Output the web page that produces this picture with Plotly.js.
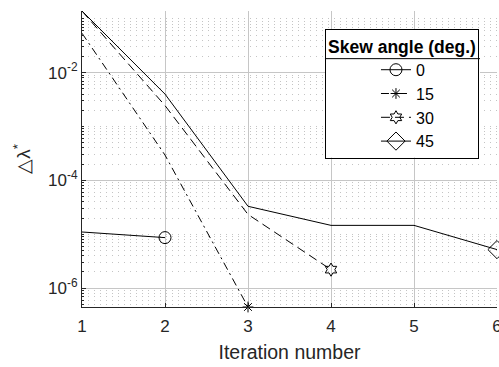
<!DOCTYPE html>
<html>
<head>
<meta charset="utf-8">
<script src="https://cdn.plot.ly/plotly-3.0.1.min.js"></script>
<style>
  html, body { margin: 0; padding: 0; background: #ffffff; }
  #chart { width: 499px; height: 367px; }
</style>
</head>
<body>
<div id="chart"></div>
<script>
// Convergence of the eigenvalue increment per iteration, by skew angle
const seriesNames = ['0', '15', '30', '45'];

const iter0  = [1, 2];
const delta0 = [1.1e-5, 8.65e-6];

const iter15  = [1, 2, 3];
const delta15 = [0.054, 2.95e-4, 4.45e-7];

const iter30  = [1, 2, 3, 4];
const delta30 = [0.139, 2.45e-3, 2.33e-5, 2.2e-6];

const iter45  = [1, 2, 3, 4, 5, 6];
const delta45 = [0.1397, 4.0e-3, 3.3e-5, 1.46e-5, 1.46e-5, 5.18e-6];

const xTickVals = [1, 2, 3, 4, 5, 6];
const yTickVals = [1e-6, 1e-4, 1e-2];
const yTickText = ['10<sup>-6</sup>', '10<sup>-4</sup>', '10<sup>-2</sup>'];

const xs = [iter0, iter15, iter30, iter45];
const ys = [delta0, delta15, delta30, delta45];
const dashes = ['solid', '8px,4px,2px,4px', '9px,5px', 'solid'];
const symbols = ['circle-open', 'asterisk-open', 'hexagram-open', 'diamond-open'];
const markerSizes = [12, 9, 10, 14];

const ink = '#262626';
const traces = [];
for (let i = 0; i < seriesNames.length; i++) {
  // the full curve
  traces.push({
    x: xs[i], y: ys[i], type: 'scatter', mode: 'lines',
    line: { color: '#000', width: 1, dash: dashes[i] },
    legendgroup: seriesNames[i], showlegend: false, hoverinfo: 'skip'
  });
  // the marker sits on the final iteration of each run
  const n = xs[i].length - 1;
  traces.push({
    x: [xs[i][n]], y: [ys[i][n]], type: 'scatter', mode: 'lines+markers',
    name: seriesNames[i], legendgroup: seriesNames[i],
    line: { color: '#000', width: 1, dash: dashes[i] },
    marker: { symbol: symbols[i], size: markerSizes[i], color: '#000',
              line: { color: '#000', width: 1 } },
    cliponaxis: false
  });
}

const allY = [].concat(delta0, delta15, delta30, delta45);
const yMin = Math.log10(Math.min.apply(null, allY));
const yMax = Math.log10(Math.max.apply(null, allY));

// legend box in paper coordinates
const legX0 = 0.5855, legX1 = 0.959, legY0 = 0.505, legY1 = 0.939, legSep = 0.839;

const layout = {
  width: 499, height: 367,
  margin: { l: 82, r: 2, t: 11, b: 60 },
  paper_bgcolor: '#fff', plot_bgcolor: '#fff',
  font: { family: '"Liberation Sans", Arial, sans-serif', color: ink, size: 16 },
  showlegend: true,
  xaxis: {
    range: [1, 6], tickvals: xTickVals, ticktext: xTickVals.map(String),
    ticks: 'inside', ticklen: 4, tickcolor: ink, tickfont: { size: 17, color: ink },
    ticklabelstandoff: 4, ticklabeloverflow: 'allow',
    showline: true, linecolor: ink, linewidth: 1, mirror: false,
    showgrid: true, gridcolor: '#c6c6c6', gridwidth: 1, zeroline: false,
    title: { text: 'Iteration number', font: { size: 19.5, color: ink }, standoff: 9 }
  },
  yaxis: {
    type: 'log', range: [yMin, yMax],
    tickvals: yTickVals, ticktext: yTickText,
    ticks: 'inside', ticklen: 4, tickcolor: ink, tickfont: { size: 17, color: ink },
    showline: true, linecolor: ink, linewidth: 1, mirror: false,
    showgrid: true, gridcolor: '#c6c6c6', gridwidth: 1, zeroline: false,
    minor: { dtick: 'D1', showgrid: true, gridcolor: '#c4c4c4', griddash: '1px,5px',
             gridwidth: 1, ticks: 'inside', ticklen: 2, tickcolor: ink },
    title: { text: '\u25B3\u03BB<sup>*</sup>', font: { size: 19, color: ink }, standoff: 12 }
  },
  legend: {
    x: legX0, xanchor: 'left', y: legY1, yanchor: 'top',
    bgcolor: 'rgba(0,0,0,0)', bordercolor: '#000', borderwidth: 1,
    font: { size: 16, color: '#000' },
    title: { text: '<b>Skew angle (deg.)</b>', font: { size: 17.5, color: '#000' }, side: 'top center' },
    indentation: 50, tracegroupgap: 0
  },
  shapes: [
    { type: 'rect', xref: 'paper', yref: 'paper', layer: 'above',
      x0: legX0, x1: legX1, y0: legY0, y1: legY1,
      fillcolor: '#fff', line: { width: 0 } },
    { type: 'line', xref: 'paper', yref: 'paper', layer: 'above',
      x0: legX0, x1: legX1, y0: legSep, y1: legSep,
      line: { color: '#000', width: 1 } }
  ]
};

Plotly.newPlot('chart', traces, layout, { displayModeBar: false, staticPlot: true });
</script>
</body>
</html>
